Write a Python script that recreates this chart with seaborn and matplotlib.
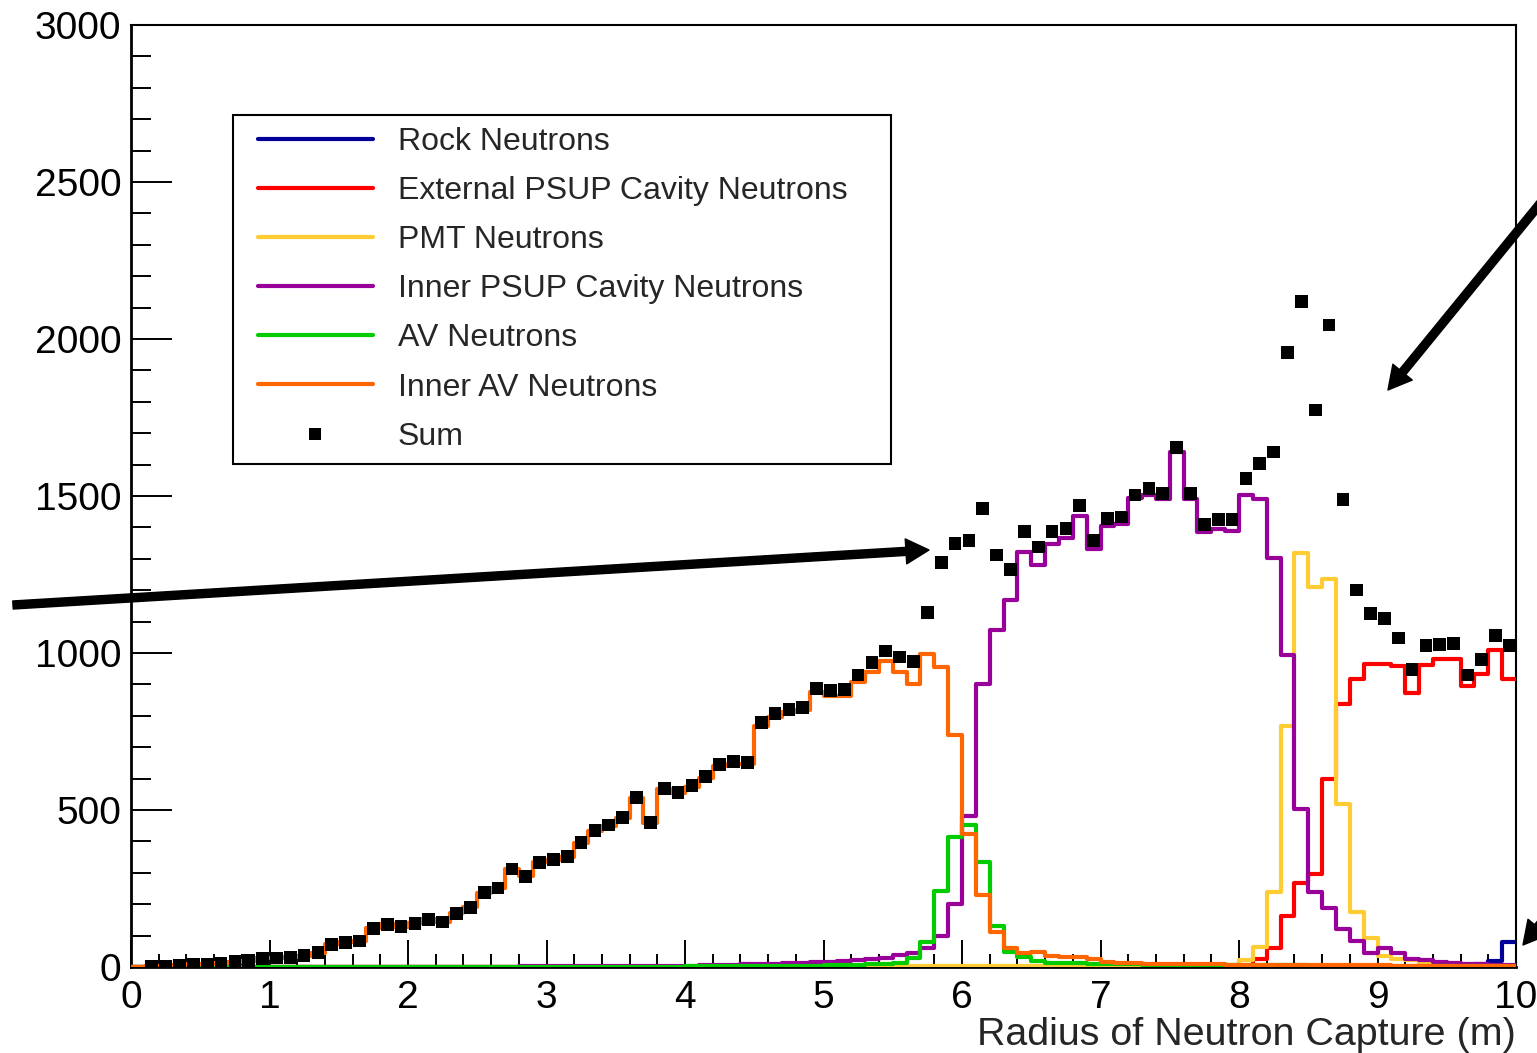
import numpy as np
import pandas as pd
import matplotlib
matplotlib.use("Agg")
import matplotlib.pyplot as plt
import seaborn as sns
from matplotlib.lines import Line2D
from matplotlib.patches import FancyArrowPatch
from matplotlib.legend_handler import HandlerLine2D
from matplotlib.ticker import MultipleLocator

sns.set_style("white")
plt.rcParams['font.family'] = ['Liberation Sans', 'DejaVu Sans']

# ---------------- data (counts per 0.1 m bin, 0-10 m) ----------------
x_min, x_max, n_bins = 0.0, 10.0, 100

rock_neutrons = [
    0, 0, 0, 0, 0, 0, 0, 0, 0, 0, 0, 0, 0, 0, 0, 0, 0, 0, 0, 0,
    0, 0, 0, 0, 0, 0, 0, 0, 0, 0, 0, 0, 0, 0, 0, 0, 0, 0, 0, 0,
    0, 0, 0, 0, 0, 0, 0, 0, 0, 0, 0, 0, 0, 0, 0, 0, 0, 0, 0, 0,
    0, 0, 0, 0, 0, 0, 0, 0, 0, 0, 0, 0, 0, 0, 0, 0, 0, 0, 0, 0,
    0, 0, 0, 0, 0, 0, 0, 0, 0, 0, 0, 0, 1, 1, 2, 3, 5, 10, 20, 80]

external_psup = [
    0, 0, 0, 0, 0, 0, 0, 0, 0, 0, 0, 0, 0, 0, 0, 0, 0, 0, 0, 0,
    0, 0, 0, 0, 0, 0, 0, 0, 0, 0, 0, 0, 0, 0, 0, 0, 0, 0, 0, 0,
    0, 0, 0, 0, 0, 0, 0, 0, 0, 0, 0, 0, 0, 0, 0, 0, 0, 0, 0, 0,
    0, 0, 0, 0, 0, 0, 0, 0, 0, 0, 0, 0, 1, 1, 1, 1, 1, 1, 1, 1,
    3, 26, 60, 164, 269, 297, 598, 837, 918, 965, 964, 958, 872, 963, 980, 981, 894, 932, 1011, 918]

pmt_neutrons = [
    0, 0, 0, 0, 0, 0, 0, 0, 0, 0, 0, 0, 0, 0, 0, 0, 0, 0, 0, 0,
    0, 0, 0, 0, 0, 0, 0, 0, 0, 0, 1, 1, 1, 1, 1, 1, 1, 1, 1, 1,
    1, 1, 1, 1, 1, 1, 1, 1, 1, 1, 2, 2, 2, 2, 3, 3, 3, 3, 3, 3,
    3, 3, 3, 3, 3, 3, 3, 3, 3, 3, 3, 3, 3, 3, 3, 3, 4, 4, 7, 7,
    21, 64, 240, 769, 1318, 1211, 1237, 518, 174, 93, 36, 26, 21, 14, 10, 6, 5, 4, 3, 3]

inner_psup = [
    0, 0, 0, 0, 0, 0, 0, 0, 0, 0, 0, 0, 0, 0, 0, 1, 1, 1, 1, 1,
    1, 1, 1, 1, 1, 1, 1, 1, 2, 2, 2, 2, 2, 2, 2, 3, 3, 3, 3, 3,
    4, 5, 6, 7, 8, 9, 10, 12, 14, 16, 17, 19, 21, 24, 30, 38, 45, 61, 100, 201,
    482, 900, 1073, 1170, 1323, 1281, 1346, 1367, 1437, 1330, 1404, 1410, 1494, 1503, 1490, 1640, 1490, 1386, 1394, 1388,
    1502, 1490, 1304, 994, 503, 240, 189, 121, 83, 43, 61, 43, 26, 22, 17, 14, 11, 11, 7, 7]

av_neutrons = [
    1, 1, 1, 1, 1, 1, 1, 1, 1, 1, 1, 1, 1, 1, 1, 1, 1, 1, 1, 1,
    1, 1, 1, 1, 1, 1, 1, 1, 1, 1, 1, 1, 1, 1, 1, 1, 1, 1, 1, 1,
    2, 2, 2, 3, 3, 3, 3, 4, 4, 4, 5, 5, 6, 8, 10, 12, 28, 80, 241, 415,
    453, 334, 129, 47, 31, 19, 14, 13, 12, 10, 9, 8, 8, 7, 7, 7, 6, 6, 6, 6,
    5, 5, 5, 5, 5, 4, 4, 4, 4, 4, 4, 3, 3, 3, 3, 3, 3, 3, 3, 3]

inner_av = [
    0, 2, 3, 6, 8, 8, 12, 17, 20, 28, 29, 31, 36, 46, 72, 79, 83, 123, 136, 128,
    139, 152, 143, 171, 190, 237, 252, 312, 289, 333, 342, 350, 395, 433, 450, 475, 537, 459, 566, 553,
    573, 602, 640, 648, 645, 768, 797, 812, 818, 875, 864, 864, 909, 940, 975, 940, 902, 997, 955, 740,
    423, 229, 110, 61, 45, 48, 34, 31, 31, 27, 16, 12, 12, 10, 10, 10, 9, 8, 8, 7,
    7, 6, 6, 6, 5, 5, 5, 5, 5, 5, 5, 4, 4, 4, 4, 4, 4, 4, 4, 4]

sum_points = [
    0, 2, 3, 6, 8, 8, 12, 17, 20, 28, 29, 31, 36, 46, 72, 79, 83, 123, 136, 128,
    139, 152, 143, 171, 190, 237, 252, 312, 289, 333, 343, 351, 396, 434, 452, 477, 539, 461, 569, 556,
    577, 607, 645, 654, 652, 778, 808, 821, 827, 888, 881, 883, 930, 969, 1006, 987, 972, 1128, 1289, 1348,
    1359, 1461, 1312, 1267, 1386, 1338, 1386, 1397, 1469, 1358, 1428, 1433, 1503, 1523, 1508, 1654, 1508, 1410, 1425, 1425,
    1556, 1603, 1640, 1956, 2119, 1774, 2045, 1490, 1201, 1125, 1111, 1048, 948, 1023, 1028, 1030, 930, 979, 1056, 1024]

labels = ["Rock Neutrons", "External PSUP Cavity Neutrons", "PMT Neutrons",
          "Inner PSUP Cavity Neutrons", "AV Neutrons", "Inner AV Neutrons"]
colors = ["#000099", "#ff0000", "#ffcc33", "#990099", "#00cc00", "#ff6600"]
series = [rock_neutrons, external_psup, pmt_neutrons, inner_psup, av_neutrons, inner_av]

x_label = "Radius of Neutron Capture (m)"

# ---------------- figure ----------------
W, H = 1537, 1053
fig = plt.figure(figsize=(W / 100, H / 100), dpi=100)
ax = fig.add_axes([131 / W, 1 - 967 / H, (1516 - 131) / W, (967 - 25) / H])

edges = np.linspace(x_min, x_max, n_bins + 1)
centers = 0.5 * (edges[:-1] + edges[1:])
bin_list = [float(e) for e in edges]

lw = 3.0
for z, (vals, col) in enumerate(zip(series, colors)):
    df = pd.DataFrame({"r": centers, "w": np.asarray(vals, float)})
    sns.histplot(data=df, x="r", weights="w", bins=bin_list,
                 element="step", fill=False, color=col, linewidth=lw,
                 ax=ax, zorder=3 + z)

df_sum = pd.DataFrame({"r": centers, "n": np.asarray(sum_points, float)})
df_sum = df_sum[df_sum["n"] > 0]
sns.scatterplot(data=df_sum, x="r", y="n", marker="s", s=84,
                color="black", edgecolor="none", linewidth=0, ax=ax, zorder=20)

ax.set_xlim(0, 10)
ax.set_ylim(0, 3000)
ax.xaxis.set_major_locator(MultipleLocator(1))
ax.xaxis.set_minor_locator(MultipleLocator(0.2))
ax.yaxis.set_major_locator(MultipleLocator(500))
ax.yaxis.set_minor_locator(MultipleLocator(100))

ax.tick_params(axis="both", which="both", direction="in",
               bottom=True, left=True, top=False, right=False,
               width=1.4, color="black", labelsize=28, labelcolor="black")
ax.tick_params(axis="y", which="major", length=29.5, pad=7)
ax.tick_params(axis="y", which="minor", length=14.5)
ax.tick_params(axis="x", which="major", length=19.5, pad=9)
ax.tick_params(axis="x", which="minor", length=9.5)

for side in ["left", "bottom"]:
    ax.spines[side].set_linewidth(2.0)
    ax.spines[side].set_color("black")
for side in ["right", "top"]:
    ax.spines[side].set_linewidth(1.5)
    ax.spines[side].set_color("black")
    ax.spines[side].set_visible(True)

ax.set_ylabel("")
ax.set_xlabel(x_label, fontsize=28.4, loc="right", labelpad=1)

# ---------------- legend ----------------
handles = [Line2D([], [], color=c, lw=lw) for c in colors]
handles.append(Line2D([], [], ls="none", marker="s", markersize=9,
                      color="black", markeredgewidth=0))
fs_leg = 23
leg = ax.legend(handles, labels + ["Sum"], loc="upper left",
                bbox_to_anchor=(233 / W, 1 - 460 / H, (891 - 233) / W, (460 - 115) / H),
                bbox_transform=fig.transFigure, mode="expand", borderaxespad=0,
                fontsize=fs_leg, frameon=True, fancybox=False, framealpha=1,
                edgecolor="black", handlelength=4.0, handletextpad=0.78,
                labelspacing=0.6, borderpad=0.37,
                handler_map={Line2D: HandlerLine2D(xpad=0.4)})
leg.get_frame().set_linewidth(1.5)
leg.set_zorder(30)

# ---------------- arrows (figure pixel coords) ----------------
def fpt(px, py):
    return (px / W, 1 - py / H)

arrow_style = "simple,head_length=1.66,head_width=1.8,tail_width=0.58"
for tail, tip in [((13, 605), (929, 550)),
                  ((1552, 189), (1388, 390)),
                  ((1565, 894), (1523, 945))]:
    arr = FancyArrowPatch(fpt(*tail), fpt(*tip), transform=fig.transFigure,
                          arrowstyle=arrow_style, mutation_scale=10,
                          color="black", shrinkA=0, shrinkB=0, zorder=40)
    fig.add_artist(arr)

fig.savefig("out.png", dpi=100)
